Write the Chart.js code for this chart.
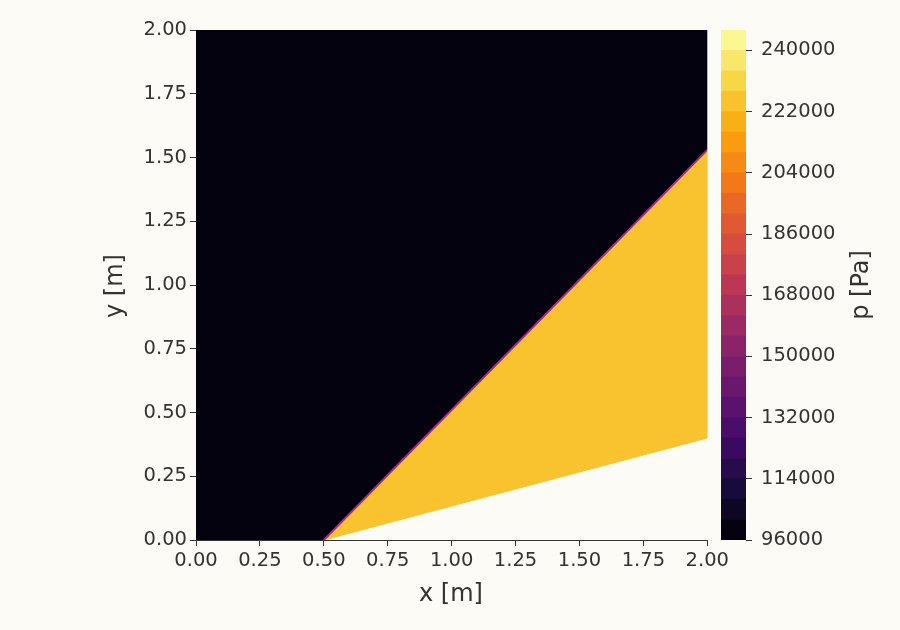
<!DOCTYPE html>
<html><head><meta charset="utf-8">
<script src="https://cdn.jsdelivr.net/npm/chart.js@4/dist/chart.umd.min.js"></script>
<style>
body{margin:0;background:#fcfbf5;width:900px;height:630px;position:relative;overflow:hidden}
canvas{position:absolute;top:0}
#main{left:0}
#cbar{left:700px}
</style></head><body>
<canvas id="main" width="732" height="630"></canvas>
<canvas id="cbar" width="200" height="630"></canvas>
<script>
// geometry of the flow field (metres)
const domainX = [0, 2];
const domainY = [0, 2];
const shockX = [0.5, 2.0];
const shockY = [0.0, 1.53];
const wedgeX = [0.5, 2.0, 2.0];
const wedgeY = [0.0, 0.4, 0.0];
// pressures (Pa)
const pFree = 96000;
const pShock = 225000;
// colour bar levels and ticks
const levelMin = 96000, levelMax = 246000, levelStep = 6000;
const cbarTicks = [96000, 114000, 132000, 150000, 168000, 186000, 204000, 222000, 240000];

const infernoStops = ['#000004','#160b39','#420a68','#6a176e','#932667','#bc3754','#dd513a','#f37819','#fca50a','#f6d746','#fcffa4'];
function hex(h){return [1,3,5].map(i=>parseInt(h.substr(i,2),16));}
function inferno(t){
  t = Math.max(0, Math.min(1, t));
  const s = t * 10, i = Math.min(9, Math.floor(s)), f = s - i;
  const a = hex(infernoStops[i]), b = hex(infernoStops[i+1]);
  return 'rgb(' + a.map((v,k)=>Math.round(v+(b[k]-v)*f)).join(',') + ')';
}
function levelColor(p){
  const n = (levelMax - levelMin) / levelStep;
  const k = Math.min(n-1, Math.floor((p - levelMin) / levelStep));
  return inferno((k + 0.5) / n);
}

const txt = '#333';
const font = {family: 'DejaVu Sans', size: 19.5};
const titleFont = '24px "DejaVu Sans"';

// axis titles drawn at fixed spots next to the axes
function titles(items) {
  return {
    id: 'titles',
    afterDraw(chart) {
      const c = chart.ctx;
      c.save();
      c.fillStyle = txt; c.font = titleFont;
      c.textAlign = 'center'; c.textBaseline = 'middle';
      items.forEach(t => {
        c.save(); c.translate(t.x, t.y); c.rotate(t.rot || 0);
        c.fillText(t.text, 0, 0); c.restore();
      });
      c.restore();
    }
  };
}

const pre = [
  {x: domainX[0], y: domainY[0]}, {x: shockX[0], y: shockY[0]}, {x: shockX[1], y: shockY[1]},
  {x: domainX[1], y: domainY[1]}, {x: domainX[0], y: domainY[1]}, {x: domainX[0], y: domainY[0]}
];
const post = [
  {x: shockX[0], y: shockY[0]}, {x: shockX[1], y: shockY[1]}, {x: wedgeX[1], y: wedgeY[1]}, {x: shockX[0], y: shockY[0]}
];
const shock = shockX.map((x,i)=>({x, y: shockY[i]}));

new Chart(document.getElementById('main'), {
  type: 'scatter',
  data: {datasets: [
    {data: pre, order: 3, showLine: true, fill: 'shape', backgroundColor: levelColor(pFree), borderColor: levelColor(pFree), borderWidth: 1, pointRadius: 0},
    {data: post, order: 2, showLine: true, fill: 'shape', backgroundColor: levelColor(pShock), borderColor: levelColor(pShock), borderWidth: 1, pointRadius: 0},
    {data: shock, order: 1, showLine: true, borderColor: '#a8288c', borderWidth: 2, pointRadius: 0}
  ]},
  options: {
    responsive: false, animation: false,
    layout: {padding: {top: 30, right: 0, left: 0, bottom: 0}},
    plugins: {legend: {display: false}, tooltip: {enabled: false}},
    scales: {
      x: {type: 'linear', min: 0, max: 2,
        afterFit: s => { s.height = 90; },
        ticks: {stepSize: 0.25, color: txt, font, callback: v => v.toFixed(2), maxRotation: 0},
        grid: {drawOnChartArea: false, tickLength: 6, color: txt},
        border: {color: txt}},
      y: {type: 'linear', min: 0, max: 2,
        afterFit: s => { s.width = 196; },
        ticks: {stepSize: 0.25, color: txt, font, callback: v => v.toFixed(2)},
        grid: {drawOnChartArea: false, tickLength: 6, color: txt},
        border: {color: txt}}
    }
  },
  plugins: [titles([
    {text: 'x [m]', x: 451, y: 595},
    {text: 'y [m]', x: 116, y: 286, rot: -Math.PI/2}
  ])]
});

const bands = [];
for (let p = levelMin; p < levelMax; p += levelStep) {
  bands.push({data: [[p, p + levelStep]], backgroundColor: levelColor(p + levelStep/2), borderWidth: 0, grouped: false, barPercentage: 1, categoryPercentage: 1});
}
new Chart(document.getElementById('cbar'), {
  type: 'bar',
  data: {labels: [''], datasets: bands},
  options: {
    responsive: false, animation: false,
    layout: {padding: {top: 30, left: 21, right: 0, bottom: 90}},
    plugins: {legend: {display: false}, tooltip: {enabled: false}},
    scales: {
      x: {display: false},
      y: {position: 'right', min: levelMin, max: levelMax,
        afterFit: s => { s.width = 154; },
        afterBuildTicks: s => { s.ticks = cbarTicks.map(v => ({value: v})); },
        ticks: {color: txt, font, callback: v => String(v), padding: 9},
        grid: {drawOnChartArea: false, tickLength: 6, color: txt},
        border: {display: false}}
    }
  },
  plugins: [titles([
    {text: 'p [Pa]', x: 162, y: 285, rot: -Math.PI/2}
  ])]
});
</script>
</body></html>
